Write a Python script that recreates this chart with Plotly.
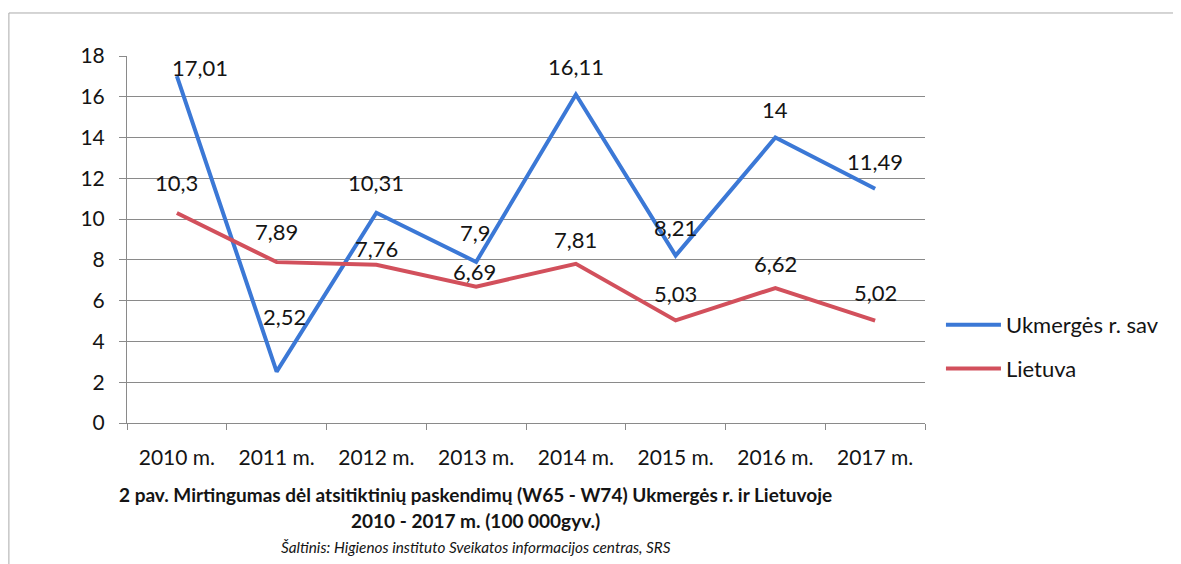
import plotly.graph_objects as go

categories = ["2010 m.", "2011 m.", "2012 m.", "2013 m.", "2014 m.", "2015 m.", "2016 m.", "2017 m."]
ukmerge = [17.01, 2.52, 10.31, 7.9, 16.11, 8.21, 14, 11.49]
lietuva = [10.3, 7.89, 7.76, 6.69, 7.81, 5.03, 6.62, 5.02]
series_names = ["Ukmergės r. sav", "Lietuva"]
y_ticks = [0, 2, 4, 6, 8, 10, 12, 14, 16, 18]

# label offsets (px) — styling only
ukm_dx = [23, 8, 0, -1, 0, 0, 0, 0]
ukm_dy = [9, 55, 30, 29, 28, 28, 28, 27]
lt_dx = [0, 0, 0, -2, 0, 0, 0, 0]
lt_dy = [30, 31, 16, 15, 24, 27, 25, 28]

BLUE = "#3b78d6"
RED = "#d2505c"
FONT = "Lato"
TXT = "#141414"

def fmt(v):
    return f"{v:g}".replace(".", ",")

fig = go.Figure()
fig.add_trace(go.Scatter(x=categories, y=ukmerge, mode="lines", name=series_names[0],
                         line=dict(color=BLUE, width=4), legendgroup="a"))
fig.add_trace(go.Scatter(x=categories, y=lietuva, mode="lines", name=series_names[1],
                         line=dict(color=RED, width=4), legendgroup="b"))

annotations = []
for vals, dxs, dys in ((ukmerge, ukm_dx, ukm_dy), (lietuva, lt_dx, lt_dy)):
    for c, v, dx, dy in zip(categories, vals, dxs, dys):
        annotations.append(dict(x=c, y=v, xref="x", yref="y", text=fmt(v), showarrow=False,
                                xshift=dx, yshift=dy, font=dict(family=FONT, size=22, color=TXT)))

annotations += [
    dict(x=0.437, y=-0.1935, xref="paper", yref="paper", showarrow=False, yanchor="middle",
         text="<b>2 pav. Mirtingumas dėl atsitiktinių paskendimų (W65 - W74) Ukmergės r. ir Lietuvoje</b>",
         font=dict(family=FONT, size=19, color=TXT)),
    dict(x=0.437, y=-0.267, xref="paper", yref="paper", showarrow=False, yanchor="middle",
         text="<b>2010 - 2017 m. (100 000gyv.)</b>",
         font=dict(family=FONT, size=19, color=TXT)),
    dict(x=0.437, y=-0.338, xref="paper", yref="paper", showarrow=False, yanchor="middle",
         text="<i>Šaltinis: Higienos instituto Sveikatos informacijos centras, SRS</i>",
         font=dict(family=FONT, size=15.3, color=TXT)),
]

shapes = [
    dict(type="path", xref="paper", yref="paper",
         path="M -0.148,-0.4 L -0.148,1.1172 L 1.4,1.1172",
         line=dict(color="#aaaaaa", width=1)),
]

fig.update_layout(
    width=1173, height=556,
    margin=dict(l=119, r=256, t=48, b=141),
    paper_bgcolor="white", plot_bgcolor="white",
    font=dict(family=FONT, size=21, color=TXT),
    showlegend=True,
    legend=dict(x=1.02, y=0.207, xanchor="left", yanchor="middle", tracegroupgap=12,
                itemwidth=55,
                font=dict(family=FONT, size=22, color=TXT), bgcolor="rgba(0,0,0,0)"),
    annotations=annotations,
    shapes=shapes,
    xaxis=dict(type="category", range=[-0.5, 7.5], tickson="boundaries", ticks="outside",
               ticklen=6, tickcolor="#8a8a8a", showline=True, linecolor="#8a8a8a", linewidth=1,
               showgrid=False, tickfont=dict(family=FONT, size=21), ticklabelstandoff=16,
               fixedrange=True),
    yaxis=dict(range=[0, 18], tickvals=y_ticks, ticks="outside", ticklen=7, tickcolor="#8a8a8a",
               showline=True, linecolor="#8a8a8a", linewidth=1, showgrid=True,
               gridcolor="#8a8a8a", gridwidth=1, zeroline=False, ticklabelstandoff=10,
               tickfont=dict(family=FONT, size=21), fixedrange=True),
)

fig.write_html("out.html")
